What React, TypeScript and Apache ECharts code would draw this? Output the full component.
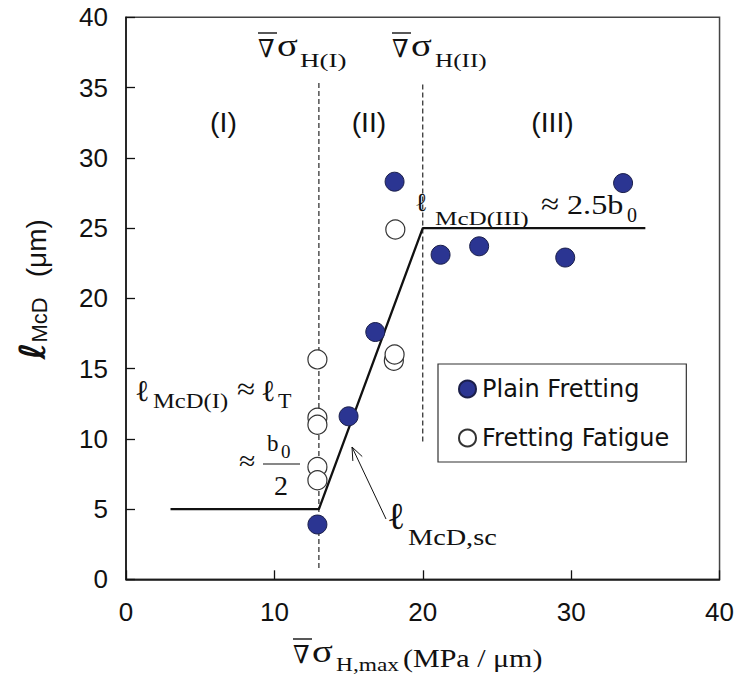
import React, { useEffect, useRef } from 'react';
import * as echarts from 'echarts';

// ---- data ----
const xRange = [0, 40];
const yRange = [0, 40];
const plainFretting: [number, number][] = [
  [12.9, 3.9], [15.0, 11.6], [16.8, 17.6], [18.1, 28.3],
  [21.2, 23.1], [23.8, 23.7], [29.6, 22.9], [33.5, 28.2],
];
const frettingFatigue: [number, number][] = [
  [12.9, 15.65], [12.9, 11.5], [12.9, 11.0], [12.9, 8.0], [12.9, 7.05],
  [18.05, 15.55], [18.1, 16.0], [18.15, 24.9],
];
const modelLine: [number, number][] = [[3, 5], [13, 5], [20, 25], [35, 25]];
const boundaryI: [number, number][] = [[13, 0.8], [13, 35.4]];
const boundaryII: [number, number][] = [[20, 9.8], [20, 35.4]];
const seriesNames = ['Plain Fretting', 'Fretting Fatigue'];
const regionLabels = ['(I)', '(II)', '(III)'];

const SERIF = '"Liberation Serif", "DejaVu Serif", serif';
const DSERIF = '"DejaVu Serif", serif';
const SANS = '"Liberation Sans", Arial, sans-serif';
const INK = '#111';

function txt(text: string, x: number, base: number, size: number, family = SERIF, sx = 1, extra: any = {}) {
  return {
    type: 'text', x, y: base - 0.35 * size, scaleX: sx, silent: true, z: 100,
    style: {
      text, font: `${size}px ${family}`, fill: INK,
      textAlign: 'left', textVerticalAlign: 'middle', ...extra,
    },
  };
}
function bar(x1: number, x2: number, y: number, w = 1.4) {
  return { type: 'line', silent: true, z: 100, shape: { x1, y1: y, x2, y2: y }, style: { stroke: INK, lineWidth: w } };
}
function arrow(tip: [number, number], tail: [number, number]) {
  const dx = tail[0] - tip[0], dy = tail[1] - tip[1];
  const L = Math.hypot(dx, dy); const ux = dx / L, uy = dy / L;
  const a = 0.38, len = 14;
  const w1 = [tip[0] + len * (ux * Math.cos(a) - uy * Math.sin(a)), tip[1] + len * (ux * Math.sin(a) + uy * Math.cos(a))];
  const w2 = [tip[0] + len * (ux * Math.cos(-a) - uy * Math.sin(-a)), tip[1] + len * (ux * Math.sin(-a) + uy * Math.cos(-a))];
  return [
    { type: 'line', silent: true, z: 100, shape: { x1: tip[0], y1: tip[1], x2: tail[0], y2: tail[1] }, style: { stroke: INK, lineWidth: 1 } },
    { type: 'polyline', silent: true, z: 100, shape: { points: [w1, tip, w2] }, style: { stroke: INK, lineWidth: 1, fill: null } },
  ];
}
function nablaSigma(x: number, base: number) {
  return [
    bar(x, x + 19, base - 24),
    txt('∇', x, base, 25, DSERIF, 0.95),
    txt('σ', x + 19, base, 31, SERIF, 1.25),
  ];
}

export default function App() {
  const ref = useRef<HTMLDivElement>(null);
  useEffect(() => {
    if (!ref.current) return;
    const chart = echarts.init(ref.current, undefined, { renderer: 'svg' });
    const graphic: any[] = [
      // top boundary labels
      ...nablaSigma(258, 57), txt('H(I)', 300, 67, 18, SERIF, 1.5),
      ...nablaSigma(392, 57), txt('H(II)', 435, 67, 18, SERIF, 1.4),
      // region labels
      txt(regionLabels[0], 223.5, 132, 27, SANS, 1.05, { textAlign: 'center' }),
      txt(regionLabels[1], 369, 132, 27, SANS, 1.05, { textAlign: 'center' }),
      txt(regionLabels[2], 552.5, 132, 27, SANS, 1.05, { textAlign: 'center' }),
      // l McD(III) ≈ 2.5 b0
      txt('ℓ', 415, 211, 26, DSERIF), txt('McD(III)', 435, 225, 18, SERIF, 1.4),
      txt('≈', 541, 214.5, 30, SERIF, 1.1), txt('2.5b', 567, 215, 28, SERIF, 1.15), txt('0', 627, 222, 20),
      // l McD(I) ≈ l T
      txt('ℓ', 135, 401, 30, DSERIF), txt('McD(I)', 153, 408, 20, SERIF, 1.23),
      txt('≈', 237, 399.5, 30, SERIF, 1.1), txt('ℓ', 261, 401, 30, DSERIF), txt('T', 278, 408, 20, SERIF, 1.1),
      // ≈ b0 / 2
      txt('≈', 239, 470, 27, SERIF, 1.1), txt('b', 267, 452, 23), txt('0', 281, 458, 19),
      bar(263, 300, 464, 1.2), txt('2', 274, 495, 28),
      // l McD,sc with arrow
      txt('ℓ', 387, 529, 38, DSERIF), txt('McD,sc', 408, 545, 23, SERIF, 1.23),
      ...arrow([352, 447], [386, 519]),
      // x-axis title
      ...nablaSigma(293, 663), txt('H,max', 336, 671, 18, SERIF, 1.3),
      txt('(MPa / μm)', 403, 667, 25, SERIF, 1.2),
    ];

    chart.setOption({
      animation: false,
      backgroundColor: '#fff',
      grid: { left: 126, right: 17, top: 17.3, bottom: 98.7, show: true, borderColor: '#444', borderWidth: 1.5 },
      xAxis: {
        type: 'value', min: xRange[0], max: xRange[1], interval: 10,
        axisLine: { lineStyle: { color: INK, width: 1.5 } },
        axisTick: { inside: true, length: 9, lineStyle: { color: INK, width: 1.3 } },
        axisLabel: { fontSize: 26, fontFamily: SANS, color: INK, margin: 20 },
        splitLine: { show: false },
      },
      yAxis: {
        type: 'value', min: yRange[0], max: yRange[1], interval: 5,
        axisLine: { lineStyle: { color: INK, width: 1.5 } },
        axisTick: { inside: true, length: 9, lineStyle: { color: INK, width: 1.3 } },
        axisLabel: { fontSize: 26, fontFamily: SANS, color: INK, margin: 18 },
        splitLine: { show: false },
        name: '{p| }{l|ℓ}{s|McD}{g| }{u|(μm)}',
        nameLocation: 'middle', nameRotate: 90, nameGap: 76,
        nameTextStyle: {
          color: INK,
          rich: {
            p: { fontFamily: SANS, fontSize: 20, lineHeight: 10, verticalAlign: 'bottom', width: 18 },
            l: { fontFamily: '"DejaVu Sans", sans-serif', fontWeight: 'bold', fontSize: 36, lineHeight: 36, verticalAlign: 'bottom', color: INK },
            s: { fontFamily: SANS, fontSize: 22, lineHeight: 12, verticalAlign: 'bottom', color: INK },
            g: { fontFamily: SANS, fontSize: 20, lineHeight: 10, verticalAlign: 'bottom', width: 20 },
            u: { fontFamily: SANS, fontSize: 28, lineHeight: 30, verticalAlign: 'bottom', color: INK },
          },
        },
      },
      legend: {
        data: seriesNames, orient: 'vertical', left: 438, top: 364,
        borderColor: '#333', borderWidth: 1.2, padding: [13, 17, 12, 20],
        itemGap: 25, itemWidth: 17, itemHeight: 17, icon: 'circle',
        textStyle: { fontFamily: '"DejaVu Sans", sans-serif', fontSize: 24, color: INK, padding: [0, 0, 0, 1] },
      },
      series: [
        { type: 'line', data: boundaryI, symbol: 'none', silent: true, lineStyle: { color: INK, width: 1.1, type: [5, 3] }, z: 1 },
        { type: 'line', data: boundaryII, symbol: 'none', silent: true, lineStyle: { color: INK, width: 1.1, type: [5, 3] }, z: 1 },
        { type: 'line', data: modelLine, symbol: 'none', silent: true, lineStyle: { color: INK, width: 2.3 }, z: 2 },
        {
          name: seriesNames[0], type: 'scatter', data: plainFretting, symbolSize: 19, z: 3,
          itemStyle: { color: '#2b3592', borderColor: '#1b1f4a', borderWidth: 1, opacity: 1 },
        },
        {
          name: seriesNames[1], type: 'scatter', data: frettingFatigue, symbolSize: 19, z: 3,
          itemStyle: { color: '#ffffff', borderColor: '#333', borderWidth: 1.2, opacity: 1 },
        },
      ],
      graphic,
    });
    return () => chart.dispose();
  }, []);
  return <div ref={ref} style={{ width: 737, height: 678, position: 'absolute', left: 0, top: 0 }} />;
}
